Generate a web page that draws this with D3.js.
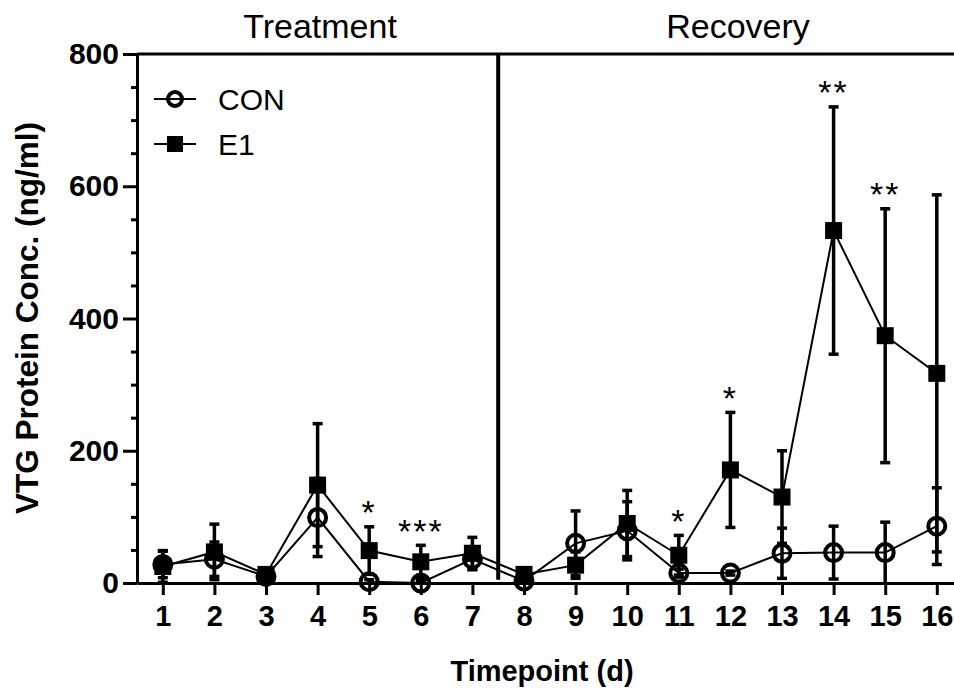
<!DOCTYPE html>
<html>
<head>
<meta charset="utf-8">
<script src="https://cdn.jsdelivr.net/npm/d3@7"></script>
<style>
  html, body { margin: 0; padding: 0; background: #fff; }
  svg { display: block; font-family: "Liberation Sans", Arial, sans-serif; }
</style>
</head>
<body>
<svg id="chart" width="954" height="694"></svg>
<script>
// Timepoints (days) and group means / SEM for VTG protein (ng/ml)
const timepoints = [1, 2, 3, 4, 5, 6, 7, 8, 9, 10, 11, 12, 13, 14, 15, 16];
const conMean = [28, 36, 10, 99, 2, 0, 36, 3, 60, 79, 15, 15, 45, 46, 46, 86];
const conErr  = [20, 26, 5, 59, 3, 2, 16, 3, 49, 44, 6, 3, 38, 40, 46, 58];
const e1Mean  = [25, 47, 13, 148, 49, 32, 45, 13, 27, 90, 42, 171, 130, 533, 374, 317];
const e1Err   = [24, 42, 6, 93, 36, 25, 24, 5, 20, 50, 30, 87, 70, 187, 192, 270];
// Significance marks above the E1 error bars
const sigTime  = [5, 6, 11, 12, 14, 15];
const sigLabel = ["*", "***", "*", "*", "**", "**"];
const yTicks = [0, 200, 400, 600, 800];
const phaseLabels = ["Treatment", "Recovery"];
const seriesNames = ["CON", "E1"];

const FONT = "Liberation Sans, Arial, sans-serif";
const svg = d3.select("#chart");

const x = d3.scaleLinear().domain([0.5, 16.5]).range([137, 137 + 16 * 51.6]);
const y = d3.scaleLinear().domain([0, 800]).range([583, 54]);

const con = timepoints.map((t, i) => ({ t, v: conMean[i], e: conErr[i] }));
const e1 = timepoints.map((t, i) => ({ t, v: e1Mean[i], e: e1Err[i] }));

// Axes
const xAxis = svg.append("g")
  .attr("transform", `translate(0,${y(0)})`)
  .call(d3.axisBottom(x).tickValues(timepoints).tickSize(12).tickPadding(10).tickSizeOuter(0));
xAxis.select(".domain").attr("stroke-width", 3);
xAxis.selectAll(".tick line").attr("stroke-width", 3);
xAxis.selectAll(".tick text")
  .attr("font-size", 29).attr("font-weight", "bold").attr("fill", "#000")
  .attr("font-family", FONT);

const yMinor = svg.append("g")
  .attr("transform", `translate(${x(0.5)},0)`)
  .call(d3.axisLeft(y).tickValues(d3.range(50, 800, 50).filter(v => v % 200 !== 0)).tickSize(6).tickFormat(""));
yMinor.select(".domain").remove();
yMinor.selectAll(".tick line").attr("stroke-width", 3);

const yAxis = svg.append("g")
  .attr("transform", `translate(${x(0.5)},0)`)
  .call(d3.axisLeft(y).tickValues(yTicks).tickSize(14).tickPadding(4).tickSizeOuter(0));
yAxis.select(".domain").attr("stroke-width", 3);
yAxis.selectAll(".tick line").attr("stroke-width", 3);
yAxis.selectAll(".tick text")
  .attr("font-size", 30).attr("font-weight", "bold").attr("fill", "#000")
  .attr("font-family", FONT);

// Top frame line and phase divider
svg.append("line")
  .attr("x1", x(0.5)).attr("x2", 954).attr("y1", y(800)).attr("y2", y(800))
  .attr("stroke", "#000").attr("stroke-width", 3);
svg.append("line")
  .attr("x1", x(7.5)).attr("x2", x(7.5)).attr("y1", y(800)).attr("y2", y(5))
  .attr("stroke", "#000").attr("stroke-width", 4);

// Phase titles
svg.append("text").attr("x", 320).attr("y", 38)
  .attr("text-anchor", "middle").attr("font-size", 34).text(phaseLabels[0]);
svg.append("text").attr("x", 738).attr("y", 38)
  .attr("text-anchor", "middle").attr("font-size", 34).text(phaseLabels[1]);

// Axis titles
svg.append("text").attr("x", 542).attr("y", 681)
  .attr("text-anchor", "middle").attr("font-size", 29).attr("font-weight", "bold")
  .text("Timepoint (d)");
svg.append("text")
  .attr("transform", `translate(38,318) rotate(-90)`)
  .attr("text-anchor", "middle").attr("font-size", 31.5).attr("font-weight", "bold")
  .text("VTG Protein Conc. (ng/ml)");

// Error bars
function errorBars(data) {
  const g = svg.append("g").attr("stroke", "#000").attr("stroke-width", 3.5);
  g.selectAll("line.v").data(data).join("line").attr("class", "v")
    .attr("x1", d => x(d.t)).attr("x2", d => x(d.t))
    .attr("y1", d => y(d.v + d.e)).attr("y2", d => y(Math.max(0, d.v - d.e)));
  g.selectAll("line.top").data(data).join("line").attr("class", "top")
    .attr("x1", d => x(d.t) - 5).attr("x2", d => x(d.t) + 5)
    .attr("y1", d => y(d.v + d.e)).attr("y2", d => y(d.v + d.e));
  g.selectAll("line.bot").data(data.filter(d => d.v - d.e > 0)).join("line").attr("class", "bot")
    .attr("x1", d => x(d.t) - 5).attr("x2", d => x(d.t) + 5)
    .attr("y1", d => y(d.v - d.e)).attr("y2", d => y(d.v - d.e));
}
errorBars(con);
errorBars(e1);

// Connecting lines
const line = d3.line().x(d => x(d.t)).y(d => y(d.v));
svg.append("path").datum(con).attr("d", line)
  .attr("fill", "none").attr("stroke", "#000").attr("stroke-width", 2);
svg.append("path").datum(e1).attr("d", line)
  .attr("fill", "none").attr("stroke", "#000").attr("stroke-width", 2);

// Markers
svg.append("g").selectAll("circle").data(con).join("circle")
  .attr("cx", d => x(d.t)).attr("cy", d => y(d.v)).attr("r", 8.5)
  .attr("fill", "none").attr("stroke", "#000").attr("stroke-width", 4);
svg.append("g").selectAll("rect").data(e1).join("rect")
  .attr("x", d => x(d.t) - 8.5).attr("y", d => y(d.v) - 8.5)
  .attr("width", 17).attr("height", 17).attr("fill", "#000");

// Significance asterisks
svg.append("g").selectAll("text").data(sigTime).join("text")
  .attr("x", t => x(t))
  .attr("y", (t, i) => {
    const d = e1[timepoints.indexOf(t)];
    return y(d.v + d.e) - 22 + 0.57 * 34;
  })
  .attr("text-anchor", "middle").attr("font-size", 34).attr("letter-spacing", 2)
  .text((t, i) => sigLabel[i]);

// Legend
const legend = svg.append("g");
const legendRows = [{ name: seriesNames[0], y: 99 }, { name: seriesNames[1], y: 144 }];
legendRows.forEach((r, i) => {
  legend.append("line").attr("x1", 154).attr("x2", 196).attr("y1", r.y).attr("y2", r.y)
    .attr("stroke", "#000").attr("stroke-width", 2);
  if (i === 0) {
    legend.append("circle").attr("cx", 175).attr("cy", r.y).attr("r", 7)
      .attr("fill", "none").attr("stroke", "#000").attr("stroke-width", 4);
  } else {
    legend.append("rect").attr("x", 167).attr("y", r.y - 8).attr("width", 16).attr("height", 16)
      .attr("fill", "#000");
  }
  legend.append("text").attr("x", 218).attr("y", r.y + 11).attr("font-size", 30).text(r.name);
});
</script>
</body>
</html>
